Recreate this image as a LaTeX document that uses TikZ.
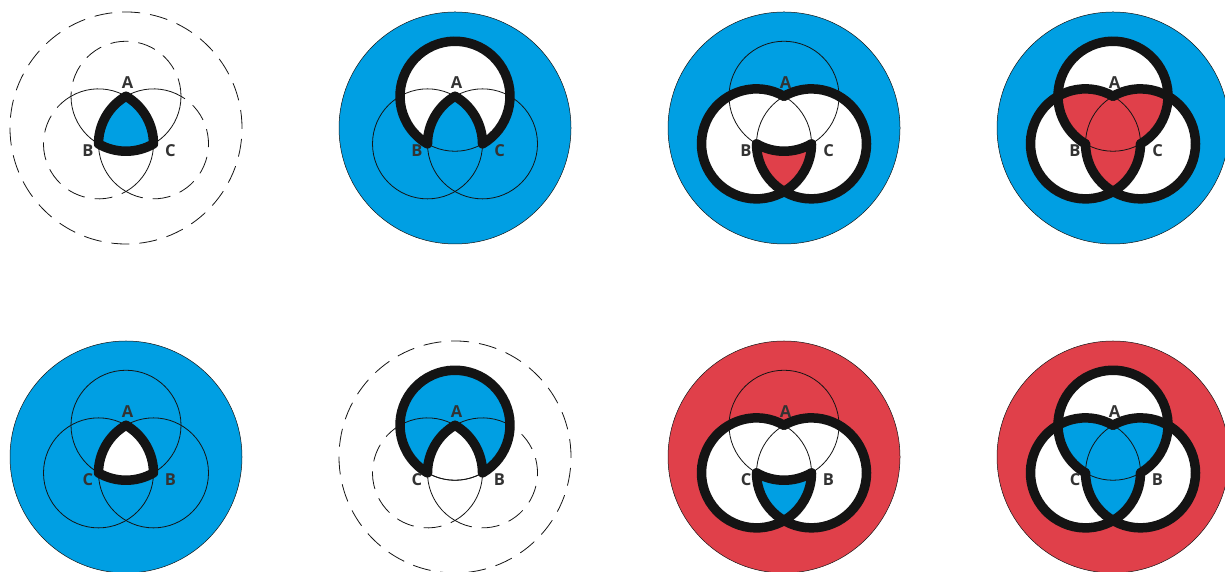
\documentclass[tikz,border=0pt]{standalone}
\usepackage{fontspec}
\setmainfont{Open Sans}
\definecolor{vblue}{HTML}{009FE3}
\definecolor{vred}{HTML}{E0404A}
\definecolor{vink}{HTML}{141414}
\definecolor{vlabel}{HTML}{333333}
\def\rr{55}
\newcommand{\labelfont}{\fontsize{16.5}{16.5}\selectfont\bfseries}
\tikzset{
  thinline/.style={draw=vink, line width=0.8pt},
  dashline/.style={thinline, dash pattern=on 18pt off 10pt},
  thickline/.style={draw=vink, line width=9.5pt, line join=round, line cap=round},
  setlabel/.style={text=vlabel, font=\labelfont, inner sep=0pt},
  disk/.style={insert path={(0,0) circle[radius=116]}},
  reuleaux/.style={insert path={(cl) arc[start angle=240,end angle=300,radius=\rr]
      arc[start angle=0,end angle=60,radius=\rr] arc[start angle=120,end angle=180,radius=\rr] -- cycle}},
  topnolens/.style={insert path={(cr) arc[start angle=-60,end angle=240,radius=\rr]
      arc[start angle=180,end angle=120,radius=\rr] arc[start angle=60,end angle=0,radius=\rr] -- cycle}},
  lensnotop/.style={insert path={(cl) arc[start angle=240,end angle=300,radius=\rr]
      arc[start angle=0,end angle=-60,radius=\rr] arc[start angle=240,end angle=180,radius=\rr] -- cycle}},
}
% centres of the three sets, local to a panel
\newcommand{\vennpts}{%
  \coordinate (ct) at (0,31.75);
  \coordinate (cl) at (-27.5,-15.88);
  \coordinate (cr) at (27.5,-15.88);}
\newcommand{\thincircles}{%
  \draw[thinline] (ct) circle[radius=\rr];
  \draw[thinline] (cl) circle[radius=\rr];
  \draw[thinline] (cr) circle[radius=\rr];}
% outer rim of the union dashed, inner arcs solid
\newcommand{\dashedvenn}{%
  \draw[dashline] (0,0) circle[radius=116];
  \draw[dashline] (ct) ++(0:\rr) arc[start angle=0,end angle=180,radius=\rr];
  \draw[thinline] (ct) ++(180:\rr) arc[start angle=180,end angle=360,radius=\rr];
  \draw[dashline] (cl) ++(120:\rr) arc[start angle=120,end angle=300,radius=\rr];
  \draw[thinline] (cl) ++(-60:\rr) arc[start angle=-60,end angle=120,radius=\rr];
  \draw[dashline] (cr) ++(-120:\rr) arc[start angle=-120,end angle=60,radius=\rr];
  \draw[thinline] (cr) ++(60:\rr) arc[start angle=60,end angle=240,radius=\rr];}
\newcommand{\pairfill}[1]{%
  \begin{scope}\clip (ct) circle[radius=\rr];
    \fill[#1] (cl) circle[radius=\rr] (cr) circle[radius=\rr];\end{scope}
  \begin{scope}\clip (cl) circle[radius=\rr];
    \fill[#1] (cr) circle[radius=\rr];\end{scope}}
\newcommand{\vennlabels}[3]{%
  \node[setlabel] (#1a) at (1.5,45.5) {A};
  \node[setlabel] (#1l) at (-38,-23) {#2};
  \node[setlabel] (#1r) at (44.5,-23) {#3};}
\begin{document}
\begin{tikzpicture}[x=1pt, y=1pt]
\useasboundingbox (0,0) rectangle (1225,572);

% ---- top row
\begin{scope}[shift={(126,444)}]
  \vennpts
  \fill[vblue, reuleaux];
  \dashedvenn
  \draw[thickline, reuleaux];
  \vennlabels{p1}{B}{C}
\end{scope}

\begin{scope}[shift={(455,444)}]
  \vennpts
  \fill[vblue, disk];
  \draw[thinline, line width=0.5pt, disk];
  \fill[white, topnolens];
  \thincircles
  \draw[thickline, topnolens];
  \vennlabels{p2}{B}{C}
\end{scope}

\begin{scope}[shift={(784,444)}]
  \vennpts
  \fill[vblue, disk];
  \draw[thinline, line width=0.5pt, disk];
  \fill[white] (cl) circle[radius=\rr] (cr) circle[radius=\rr];
  \fill[vred, lensnotop];
  \thincircles
  \draw[thickline] (ct) arc[start angle=60,end angle=360,radius=\rr];
  \draw[thickline] (cl) arc[start angle=180,end angle=480,radius=\rr];
  \draw[thickline] (cl) arc[start angle=240,end angle=300,radius=\rr];
  \vennlabels{p3}{B}{C}
\end{scope}

\begin{scope}[shift={(1113,444)}]
  \vennpts
  \fill[vblue, disk];
  \draw[thinline, line width=0.5pt, disk];
  \fill[white] (ct) circle[radius=\rr] (cl) circle[radius=\rr] (cr) circle[radius=\rr];
  \pairfill{vred}
  \thincircles
  \draw[thickline] (cr) arc[start angle=-60,end angle=240,radius=\rr];
  \draw[thickline] (ct) arc[start angle=60,end angle=360,radius=\rr];
  \draw[thickline] (cl) arc[start angle=180,end angle=480,radius=\rr];
  \vennlabels{p4}{B}{C}
\end{scope}

% ---- bottom row
\begin{scope}[shift={(126,115)}]
  \vennpts
  \fill[vblue, disk];
  \draw[thinline, line width=0.5pt, disk];
  \fill[white, reuleaux];
  \thincircles
  \draw[thickline, reuleaux];
  \vennlabels{p5}{C}{B}
\end{scope}

\begin{scope}[shift={(455,115)}]
  \vennpts
  \fill[vblue, topnolens];
  \dashedvenn
  \draw[thinline] (cl) arc[start angle=240,end angle=300,radius=\rr];
  \draw[thickline, topnolens];
  \vennlabels{p6}{C}{B}
\end{scope}

\begin{scope}[shift={(784,115)}]
  \vennpts
  \fill[vred, disk];
  \draw[thinline, line width=0.5pt, disk];
  \fill[white] (cl) circle[radius=\rr] (cr) circle[radius=\rr];
  \fill[vblue, lensnotop];
  \thincircles
  \draw[thickline] (ct) arc[start angle=60,end angle=360,radius=\rr];
  \draw[thickline] (cl) arc[start angle=180,end angle=480,radius=\rr];
  \draw[thickline] (cl) arc[start angle=240,end angle=300,radius=\rr];
  \vennlabels{p7}{C}{B}
\end{scope}

\begin{scope}[shift={(1113,115)}]
  \vennpts
  \fill[vred, disk];
  \draw[thinline, line width=0.5pt, disk];
  \fill[white] (ct) circle[radius=\rr] (cl) circle[radius=\rr] (cr) circle[radius=\rr];
  \pairfill{vblue}
  \thincircles
  \draw[thickline] (cr) arc[start angle=-60,end angle=240,radius=\rr];
  \draw[thickline] (ct) arc[start angle=60,end angle=360,radius=\rr];
  \draw[thickline] (cl) arc[start angle=180,end angle=480,radius=\rr];
  \vennlabels{p8}{C}{B}
\end{scope}
\end{tikzpicture}
\end{document}
